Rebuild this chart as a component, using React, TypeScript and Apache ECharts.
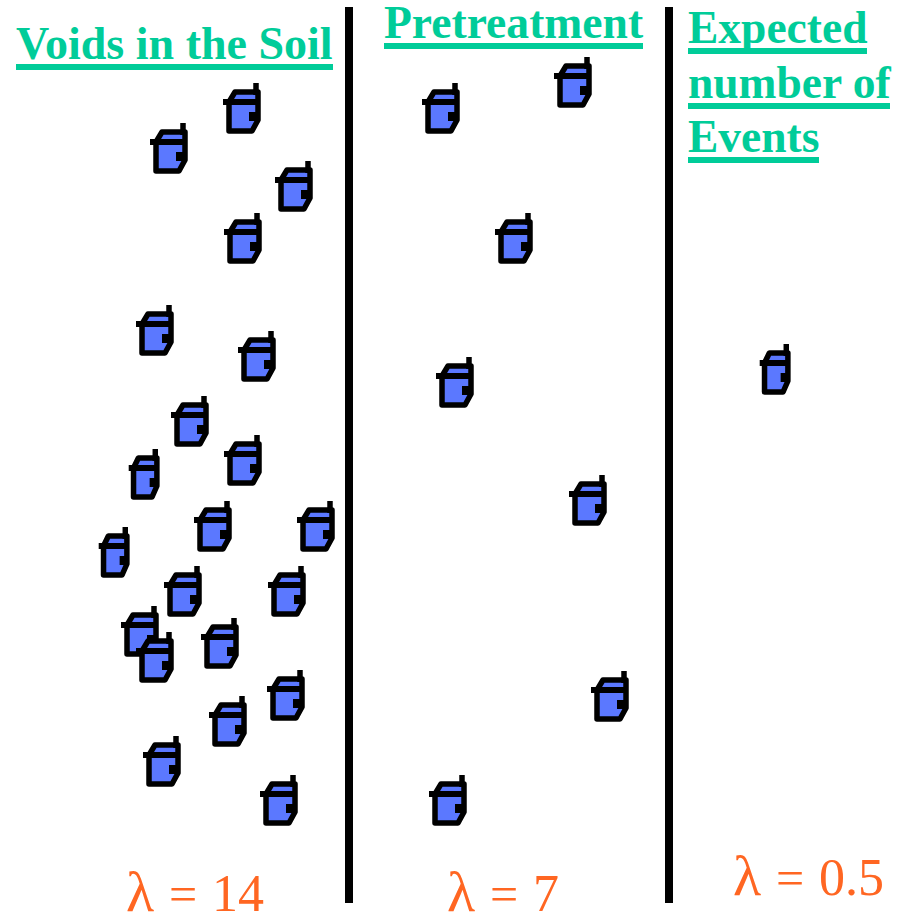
import React, { useEffect, useRef } from "react";
import * as echarts from "echarts";

const W = 903;
const H = 914;

// [centre x, centre y, icon width] of each phone
const soilIcons = [
  [242, 108, 36], [169, 148, 36], [294, 186, 36], [243, 238, 36], [155, 330, 36], [257, 356, 36],
  [190, 421, 36], [144, 474, 29], [243, 460, 36], [213, 526, 36], [316, 526, 36], [114, 552, 29],
  [183, 591, 36], [287, 591, 36], [140, 631, 36], [220, 643, 36], [155, 657, 36], [286, 695, 36],
  [228, 721, 36], [162, 761, 36], [279, 800, 36],
];
const pretreatmentIcons = [
  [441, 108, 36], [573, 82, 36], [514, 238, 36], [455, 382, 36], [588, 500, 36], [610, 696, 36], [448, 800, 36],
];
const eventIcons = [[775, 369, 29]];

const dividers = [349, 669];
const dividerTop = 7;
const dividerBottom = 903;

const titleLines = ["Voids in the Soil", "Pretreatment", "Expected", "number of", "Events"];
const lambdaValues = ["14", "7", "0.5"];

const titleLayout = [
  { x: 16, y: 59, w: 317, size: 46 },
  { x: 384, y: 38, w: 259, size: 45.6 },
  { x: 688, y: 43, w: 179, size: 45.5 },
  { x: 688, y: 98, w: 202, size: 45.5 },
  { x: 688, y: 152, w: 131, size: 45.5 },
];
const lambdaLayout = [
  { x: 127, y: 911 },
  { x: 448, y: 911 },
  { x: 734, y: 895 },
];

const BLUE = "#5b78ff";
const GREEN = "#00cc99";
const ORANGE = "#ff6622";
const SERIF = '"Liberation Serif", serif';

function renderPhone(_p: any, api: any) {
  const c = api.coord([api.value(0), api.value(1)]);
  const sx = api.value(2) / 36;
  const ox = c[0] - 19 * sx;
  const oy = c[1] - 25;
  const pt = (x: number, y: number) => [ox + x * sx, oy + y];
  const stroke = { stroke: "#000", lineWidth: 5.5, lineJoin: "round" as const, lineCap: "butt" as const };
  return {
    type: "group",
    children: [
      {
        type: "polygon",
        shape: { points: [pt(6, 19), pt(12, 9), pt(35, 9), pt(35, 37), pt(29, 48), pt(6, 48)] },
        style: { fill: BLUE, ...stroke },
      },
      { type: "line", shape: { x1: pt(0, 19)[0], y1: oy + 19, x2: pt(35, 19)[0], y2: oy + 19 }, style: { ...stroke, lineWidth: 6 } },
      { type: "line", shape: { x1: pt(33, 0)[0], y1: oy, x2: pt(33, 12)[0], y2: oy + 12 }, style: { ...stroke, lineWidth: 5.5 } },
      { type: "rect", shape: { x: pt(26, 0)[0], y: oy + 29, width: 8 * sx, height: 9 }, style: { fill: "#000" } },
    ],
  };
}

function renderDivider(_p: any, api: any) {
  const a = api.coord([api.value(0), dividerTop]);
  const b = api.coord([api.value(0), dividerBottom]);
  return {
    type: "line",
    shape: { x1: a[0], y1: a[1], x2: b[0], y2: b[1] },
    style: { stroke: "#000", lineWidth: 8 },
  };
}

function App() {
  const ref = useRef<HTMLDivElement>(null);
  useEffect(() => {
    const chart = echarts.init(ref.current!, undefined, { renderer: "svg" });
    const phoneSeries = (name: string, data: number[][]) => ({
      type: "custom" as const,
      name,
      coordinateSystem: "cartesian2d",
      data,
      renderItem: renderPhone,
      silent: true,
      clip: false,
    });
    const lambdaText = (text: string, x: number, y: number, size: number) => ({
      type: "text",
      x,
      y: y + size * 0.16,
      style: { text, fill: ORANGE, font: `${size}px ${SERIF}`, verticalAlign: "bottom" },
    });
    chart.setOption({
      animation: false,
      backgroundColor: "#fff",
      grid: { left: 0, right: 0, top: 0, bottom: 0 },
      xAxis: { type: "value", min: 0, max: W, show: false },
      yAxis: { type: "value", min: 0, max: H, inverse: true, show: false },
      series: [
        {
          type: "custom",
          name: "dividers",
          coordinateSystem: "cartesian2d",
          data: dividers.map((x) => [x]),
          renderItem: renderDivider,
          silent: true,
        },
        phoneSeries("Voids in the Soil", soilIcons),
        phoneSeries("Pretreatment", pretreatmentIcons),
        phoneSeries("Expected number of Events", eventIcons),
      ],
      graphic: [
        ...titleLines.map((text, i) => ({
          type: "text",
          x: titleLayout[i].x,
          y: titleLayout[i].y + 7.5,
          style: {
            text,
            fill: GREEN,
            font: `bold ${titleLayout[i].size}px ${SERIF}`,
            verticalAlign: "bottom",
          },
        })),
        ...titleLayout.map((t) => ({
          type: "rect",
          shape: { x: t.x, y: t.y + 5, width: t.w, height: 6 },
          style: { fill: GREEN },
        })),
        ...lambdaValues.flatMap((value, i) => {
          const t = lambdaLayout[i];
          return [
            lambdaText("λ", t.x - 1, t.y, 58),
            lambdaText("=", t.x + 42, t.y, 50),
            lambdaText(value, t.x + 85, t.y, 52),
          ];
        }),
      ],
    });
    return () => chart.dispose();
  }, []);
  return <div ref={ref} style={{ position: "fixed", left: 0, top: 0, width: W, height: H }} />;
}

export default App;
